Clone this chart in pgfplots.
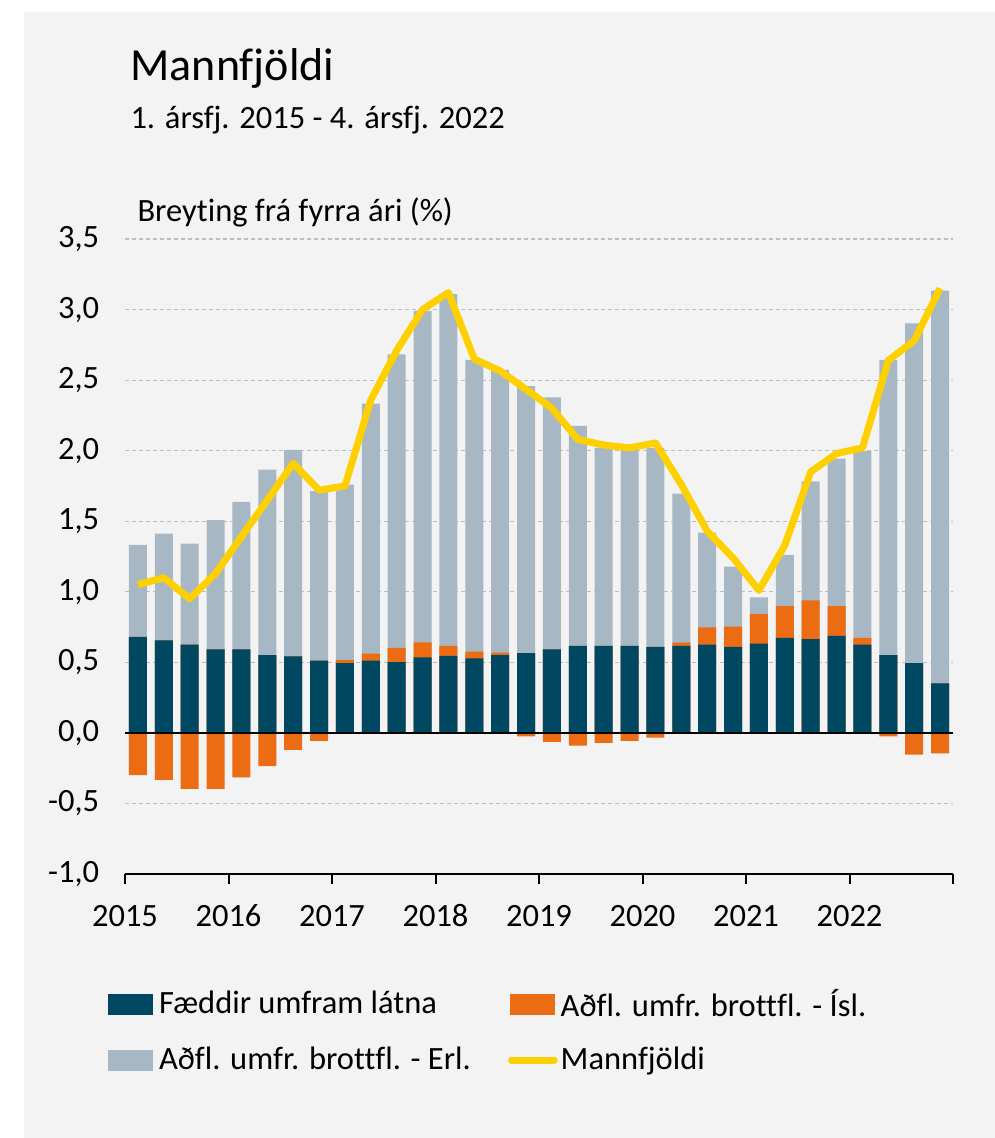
\documentclass[border=0pt]{standalone}
\usepackage{fontspec}
\setmainfont{Carlito}[Ligatures={NoCommon}]
\usepackage{pgfplots}
\pgfplotsset{compat=1.18}
\usepackage{pgfplotstable}
\definecolor{dkblue}{RGB}{0,72,98}
\definecolor{orng}{RGB}{236,108,20}
\definecolor{gryb}{RGB}{167,184,196}
\definecolor{ylw}{RGB}{255,208,0}
\definecolor{bgc}{RGB}{243,243,243}
\definecolor{gridc}{RGB}{190,190,190}

\pgfplotstableread{
i  dark   isl    erl    line
0  0.680 -0.300  0.652  1.05
1  0.656 -0.332  0.757  1.10
2  0.626 -0.396  0.715  0.95
3  0.592 -0.396  0.916  1.13
4  0.592 -0.316  1.046  1.39
5  0.552 -0.235  1.314  1.65
6  0.543 -0.121  1.463  1.91
7  0.512 -0.057  1.202  1.72
8  0.495  0.020  1.244  1.75
9  0.512  0.050  1.771  2.36
10 0.502  0.100  2.081  2.71
11 0.536  0.106  2.348  3.00
12 0.545  0.071  2.494  3.12
13 0.529  0.047  2.067  2.65
14 0.552  0.017  2.003  2.565
15 0.566 -0.024  1.892  2.435
16 0.592 -0.064  1.786  2.30
17 0.616 -0.090  1.560  2.08
18 0.616 -0.071  1.404  2.04
19 0.616 -0.057  1.392  2.02
20 0.609 -0.033  1.411  2.055
21 0.616  0.024  1.055  1.76
22 0.626  0.121  0.673  1.43
23 0.609  0.145  0.424  1.24
24 0.633  0.208  0.119  1.01
25 0.673  0.225  0.363  1.33
26 0.664  0.275  0.843  1.85
27 0.687  0.211  1.046  1.98
28 0.626  0.047  1.323  2.02
29 0.552 -0.024  2.091  2.64
30 0.495 -0.154  2.407  2.78
31 0.351 -0.145  2.783  3.15
}\data

\begin{document}
\begin{tikzpicture}
\fill[white] (0pt,0pt) rectangle (398pt,-455.2pt);
\fill[bgc] (9.6pt,-4.8pt) rectangle (398pt,-455.2pt);
\node[anchor=base west, inner sep=0pt, font=\fontsize{18.4}{22}\selectfont] at (52pt,-32pt) {Mannfjöldi};
\node[anchor=base west, inner sep=0pt, font=\fontsize{13}{15}\selectfont] at (52pt,-51.2pt) {1. ársfj. 2015 - 4. ársfj. 2022};
\node[anchor=base west, inner sep=0pt, font=\fontsize{13}{15}\selectfont] at (54.8pt,-88.7pt) {Breyting frá fyrra ári (\%)};
\begin{axis}[
  at={(50pt,-349.6pt)}, anchor=south west,
  scale only axis, width=331.2pt, height=254pt,
  xmin=0, xmax=32, ymin=-1, ymax=3.5,
  enlargelimits=false,
  axis x line*=bottom, axis y line*=left,
  y axis line style={draw=none},
  x axis line style={line width=0.8pt},
  xtick={0,4,8,12,16,20,24,28,32},
  xticklabels={2015,2016,2017,2018,2019,2020,2021,2022,{}},
  xtick style={black, line width=0.8pt},
  major tick length=4pt, tick align=outside,
  ytick={-1,-0.5,0,0.5,1,1.5,2,2.5,3,3.5},
  ytick style={draw=none},
  ymajorgrids,
  grid style={gridc, line width=0.5pt, dash pattern=on 1.6pt off 1.2pt},
  /pgf/number format/assume math mode=true,
  yticklabel style={xshift=-2.8pt, /pgf/number format/.cd, fixed, fixed zerofill, precision=1, use comma},
  xticklabel style={anchor=north, text height=9pt, text depth=0pt, yshift=-4.5pt},
  tick label style={font=\fontsize{13}{15}\selectfont},
  ybar, bar width=0.7,
  legend columns=2,
  legend cell align=left,
  legend style={at={(axis description cs:-0.0211,-0.1764)}, anchor=north west,
    draw=none, fill=none, inner sep=0pt, row sep=8.8pt,
    font=\fontsize{13}{15}\selectfont,
    nodes={inner sep=1pt},
    /tikz/every even column/.append style={column sep=13.8pt}},
]
\addlegendimage{legend image code/.code={\fill[dkblue] (0pt,-4pt) rectangle (17.6pt,4pt); \path (19pt,0pt);}}
\addlegendentry{Fæddir umfram látna}
\addlegendimage{legend image code/.code={\fill[orng] (0pt,-4pt) rectangle (17.6pt,4pt); \path (19pt,0pt);}}
\addlegendentry{Aðfl. umfr. brottfl. - Ísl.}
\addlegendimage{legend image code/.code={\fill[gryb] (0pt,-4pt) rectangle (17.6pt,4pt); \path (19pt,0pt);}}
\addlegendentry{Aðfl. umfr. brottfl. - Erl.}
\addlegendimage{legend image code/.code={\draw[ylw, line width=2.8pt, line cap=round] (0.5pt,0pt) -- (17.6pt,0pt); \path (19pt,0pt);}}
\addlegendentry{Mannfjöldi}

\addplot[forget plot, fill=gryb, draw=none, bar shift=0pt] table[x expr=\thisrow{i}+0.5, y expr={\thisrow{dark}+max(\thisrow{isl},0)+\thisrow{erl}}] {\data};
\addplot[forget plot, fill=orng, draw=none, bar shift=0pt] table[x expr=\thisrow{i}+0.5, y expr={\thisrow{dark}+max(\thisrow{isl},0)}] {\data};
\addplot[forget plot, fill=dkblue, draw=none, bar shift=0pt] table[x expr=\thisrow{i}+0.5, y=dark] {\data};
\addplot[forget plot, fill=orng, draw=none, bar shift=0pt] table[x expr=\thisrow{i}+0.5, y expr={min(\thisrow{isl},0)}] {\data};
\draw[black, line width=0.8pt] (axis cs:0,0) -- (axis cs:32,0);
\addplot[forget plot, sharp plot, ylw, line width=2.8pt, line join=round, mark=none] table[x expr=\thisrow{i}+0.5, y=line] {\data};
\end{axis}
\end{tikzpicture}
\end{document}
